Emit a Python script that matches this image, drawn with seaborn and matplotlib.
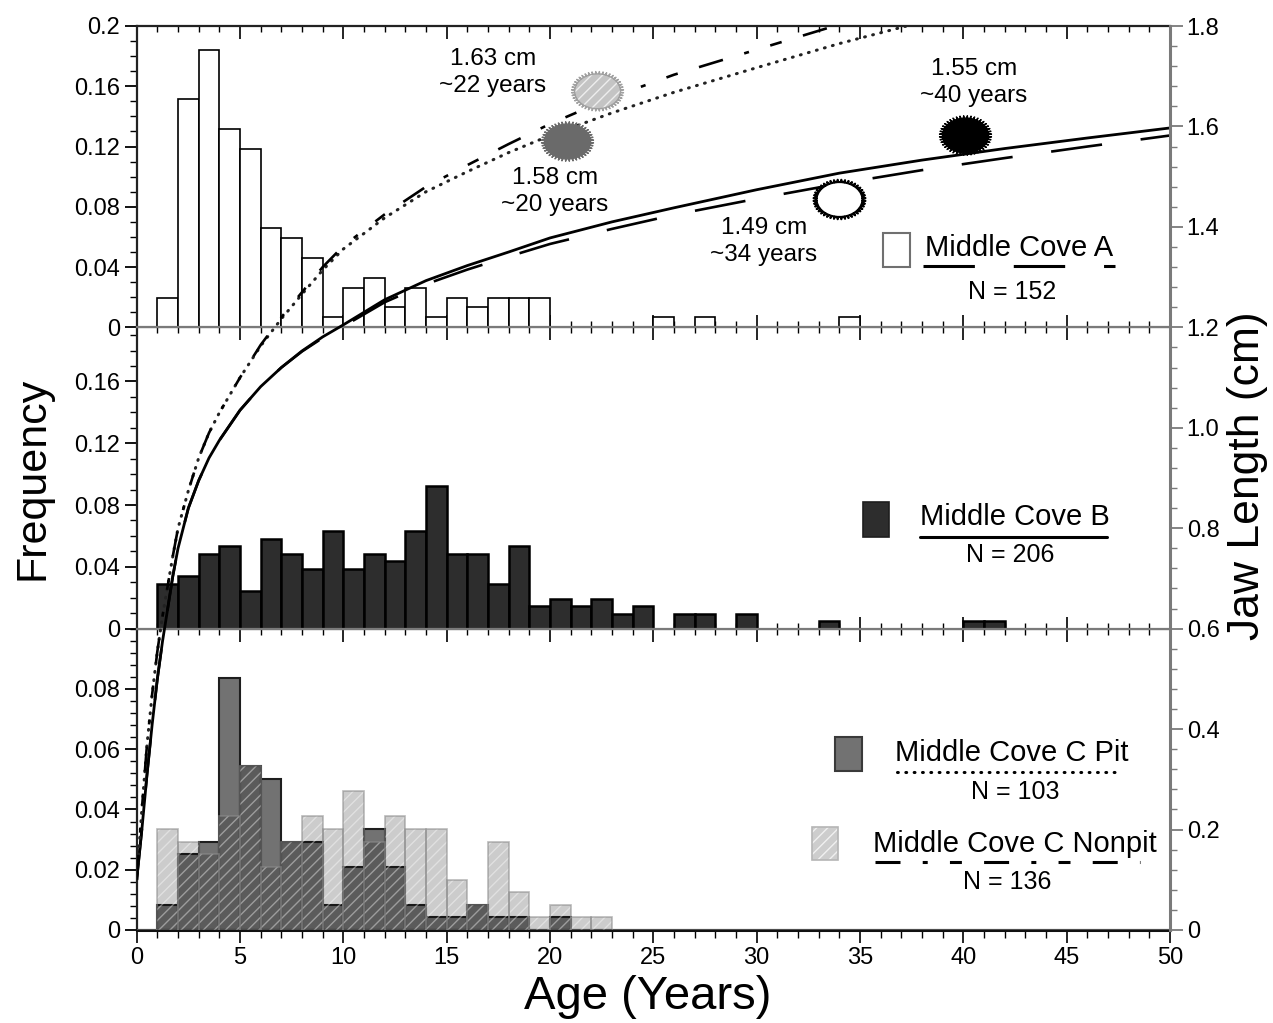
import numpy as np
import matplotlib
matplotlib.use("Agg")
import matplotlib.pyplot as plt
import seaborn as sns
from matplotlib.path import Path
from matplotlib.patches import Rectangle
from matplotlib.lines import Line2D
from matplotlib.ticker import MultipleLocator

# ---- histogram data: left edge of each 1-year age bin, frequency
age_a = [1, 2, 3, 4, 5, 6, 7, 8, 9, 10, 11, 12, 13, 14, 15, 16, 17, 18, 19, 25, 27, 34]
freq_a = [0.0197, 0.1513, 0.1842, 0.1316, 0.1184, 0.0658, 0.0592, 0.0461, 0.0066, 0.0263,
          0.0329, 0.0132, 0.0263, 0.0066, 0.0197, 0.0132, 0.0197, 0.0197, 0.0197,
          0.0066, 0.0066, 0.0066]

age_b = [1, 2, 3, 4, 5, 6, 7, 8, 9, 10, 11, 12, 13, 14, 15, 16, 17, 18, 19, 20, 21, 22, 23, 24,
         26, 27, 29, 33, 40, 41]
freq_b = [0.0291, 0.0340, 0.0485, 0.0534, 0.0243, 0.0583, 0.0485, 0.0388, 0.0631, 0.0388,
          0.0485, 0.0437, 0.0631, 0.0922, 0.0485, 0.0485, 0.0291, 0.0534, 0.0146, 0.0194,
          0.0146, 0.0194, 0.0097, 0.0146, 0.0097, 0.0097, 0.0097, 0.0049, 0.0049, 0.0049]

age_pit = [1, 2, 3, 4, 5, 6, 7, 8, 9, 10, 11, 12, 13, 14, 15, 16, 17, 18, 20]
freq_pit = [0.0084, 0.0251, 0.0293, 0.0837, 0.0544, 0.0502, 0.0293, 0.0293, 0.0084, 0.0209,
            0.0335, 0.0209, 0.0084, 0.0042, 0.0042, 0.0084, 0.0042, 0.0042, 0.0042]

age_nonpit = [1, 2, 3, 4, 5, 6, 7, 8, 9, 10, 11, 12, 13, 14, 15, 16, 17, 18, 19, 20, 21, 22]
freq_nonpit = [0.0335, 0.0293, 0.0251, 0.0377, 0.0544, 0.0209, 0.0293, 0.0377, 0.0335, 0.0460,
               0.0293, 0.0377, 0.0335, 0.0335, 0.0167, 0.0084, 0.0293, 0.0126, 0.0042, 0.0084,
               0.0042, 0.0042]

# ---- growth curves (age in years, jaw length in cm)
grow_age = [0, 0.25, 0.5, 0.75, 1.0, 1.25, 1.5, 1.75, 2.0, 2.5, 3.0, 3.5, 4.0, 5.0, 6.0, 7.0,
            8.0, 9.0, 10.0, 12.0, 14.0, 16.0, 18.0, 20.0, 23.0, 26.0, 30.0, 34.0, 38.0, 42.0,
            46.0, 50.0]
grow_b_len = [0.10, 0.20, 0.31, 0.41, 0.50, 0.575, 0.64, 0.705, 0.76, 0.84, 0.895, 0.94, 0.975,
              1.035, 1.082, 1.12, 1.153, 1.181, 1.205, 1.255, 1.293, 1.323, 1.35, 1.378, 1.41,
              1.438, 1.474, 1.507, 1.533, 1.556, 1.577, 1.597]
grow_a_len = [0.10, 0.20, 0.31, 0.41, 0.50, 0.575, 0.64, 0.705, 0.76, 0.84, 0.895, 0.94, 0.975,
              1.035, 1.082, 1.12, 1.152, 1.179, 1.202, 1.25, 1.286, 1.315, 1.341, 1.366, 1.396,
              1.424, 1.456, 1.486, 1.513, 1.537, 1.56, 1.582]

grow_c_age = [0, 0.25, 0.5, 0.75, 1.0, 1.25, 1.5, 1.75, 2.0, 2.5, 3.0, 3.5, 4.0, 5.0, 6.0, 7.0,
              8.0, 9.0, 10.0, 12.0, 14.0, 16.0, 18.0, 20.0, 23.0, 26.0, 30.0, 34.0, 38.0]
grow_pit_len = [0.10, 0.24, 0.37, 0.47, 0.555, 0.625, 0.685, 0.745, 0.80, 0.875, 0.94, 0.99,
                1.03, 1.10, 1.163, 1.217, 1.266, 1.314, 1.356, 1.418, 1.47, 1.51, 1.548, 1.582,
                1.627, 1.668, 1.717, 1.765, 1.808]
grow_nonpit_len = [0.10, 0.24, 0.37, 0.47, 0.555, 0.625, 0.685, 0.745, 0.80, 0.875, 0.94, 0.99,
                   1.03, 1.10, 1.165, 1.22, 1.27, 1.32, 1.362, 1.425, 1.48, 1.523, 1.565, 1.605,
                   1.658, 1.703, 1.753, 1.803, 1.845]

# ---- sampled individuals shown as markers
mark_age = [22.3, 20.8, 34.0, 40.1]
mark_len = [1.670, 1.571, 1.456, 1.582]
mark_note = ["1.63 cm\n~22 years", "1.58 cm\n~20 years", "1.49 cm\n~34 years", "1.55 cm\n~40 years"]

sns.set_style("ticks")
plt.rcParams["font.family"] = ["Liberation Sans", "DejaVu Sans"]
plt.rcParams["text.color"] = "black"
plt.rcParams["axes.labelcolor"] = "black"
plt.rcParams["xtick.color"] = "black"
plt.rcParams["ytick.color"] = "black"
plt.rcParams["lines.scale_dashes"] = False
plt.rcParams["hatch.linewidth"] = 1.0

W_PX, H_PX = 1273, 1023
fig = plt.figure(figsize=(W_PX / 100, H_PX / 100), dpi=100)


def fx(px):
    return px / W_PX


def fy(py):
    return 1 - py / H_PX


left, right = fx(136.7), fx(1170)
bottom = fy(930)
third = (930 - 26) / 3 / H_PX
width = right - left

ax_c = fig.add_axes([left, bottom, width, third])
ax_b = fig.add_axes([left, bottom + third, width, third])
ax_a = fig.add_axes([left, bottom + 2 * third, width, third])

hist_kw = dict(binwidth=1, binrange=(0, 50))

sns.histplot(x=age_a, weights=freq_a, ax=ax_a, facecolor="white",
             edgecolor="black", linewidth=1.2, **hist_kw)
sns.histplot(x=age_b, weights=freq_b, ax=ax_b, facecolor="#2d2d2d",
             edgecolor="black", linewidth=1.8, **hist_kw)
sns.histplot(x=age_pit, weights=freq_pit, ax=ax_c, facecolor="#727272",
             edgecolor="#1e1e1e", linewidth=1.5, zorder=2, **hist_kw)
sns.histplot(x=age_nonpit, weights=freq_nonpit, ax=ax_c, facecolor=(0, 0, 0, 0.2),
             edgecolor=(1, 1, 1, 0.4), linewidth=0, hatch="///", zorder=3, **hist_kw)
sns.histplot(x=age_nonpit, weights=freq_nonpit, ax=ax_c, facecolor="none",
             edgecolor=(0.55, 0.55, 0.55, 0.6), linewidth=1.2, zorder=4, **hist_kw)

panels = [
    (ax_a, 0.2, [0, 0.04, 0.08, 0.12, 0.16, 0.2], ["0", "0.04", "0.08", "0.12", "0.16", "0.2"], 0.01),
    (ax_b, 0.195, [0, 0.04, 0.08, 0.12, 0.16], ["0", "0.04", "0.08", "0.12", "0.16"], 0.01),
    (ax_c, 0.1, [0, 0.02, 0.04, 0.06, 0.08], ["0", "0.02", "0.04", "0.06", "0.08"], 0.004),
]
for ax, ymax, ticks, labels, minor in panels:
    ax.set_xlim(0, 50)
    ax.set_ylim(0, ymax)
    ax.set_xlabel("")
    ax.set_ylabel("")
    ax.set_yticks(ticks, labels)
    ax.yaxis.set_minor_locator(MultipleLocator(minor))
    ax.xaxis.set_major_locator(MultipleLocator(5))
    ax.xaxis.set_minor_locator(MultipleLocator(1))
    ax.tick_params(axis="y", which="major", direction="out", length=9, width=1.3,
                   labelsize=17, pad=3)
    ax.tick_params(axis="y", which="minor", direction="out", length=5, width=1.0)
    ax.tick_params(axis="x", which="major", top=True, bottom=True, direction="in",
                   length=9, width=1.2, labelbottom=False)
    ax.tick_params(axis="x", which="minor", top=True, bottom=True, direction="in",
                   length=4, width=1.0)
    ax.spines["right"].set_visible(False)
    for side in ["top", "bottom"]:
        ax.spines[side].set_color("#7a7a7a")
        ax.spines[side].set_linewidth(1.6)
    ax.spines["left"].set_color("#222222")
    ax.spines["left"].set_linewidth(1.6)

ax_a.spines["top"].set_color("#222222")
ax_c.spines["bottom"].set_color("#111111")
ax_c.spines["bottom"].set_linewidth(2.2)
ax_c.tick_params(axis="x", which="both", top=False, direction="out", labelbottom=True,
                 labelsize=17)
ax_c.tick_params(axis="x", which="major", length=9)
ax_c.tick_params(axis="x", which="minor", length=6)
top_c = ax_c.secondary_xaxis("top")
top_c.xaxis.set_major_locator(MultipleLocator(5))
top_c.xaxis.set_minor_locator(MultipleLocator(1))
top_c.tick_params(axis="x", which="major", direction="in", length=9, width=1.2, labeltop=False)
top_c.tick_params(axis="x", which="minor", direction="in", length=4, width=1.0)
top_c.spines["top"].set_visible(False)

# ---- overlay axis for the growth curves (right axis, whole height)
ax_g = fig.add_axes([left, bottom, width, 3 * third])
ax_g.patch.set_visible(False)
for side in ["top", "left", "bottom"]:
    ax_g.spines[side].set_visible(False)
ax_g.spines["right"].set_color("#7a7a7a")
ax_g.spines["right"].set_linewidth(2.2)

dash_a = (0, (37, 28))
dot_pit = (0, (0.6, 5.4))
dash_nonpit = (0, (18, 16, 3.6, 16, 8.6, 16))

sns.lineplot(x=grow_age, y=grow_a_len, ax=ax_g, color="black", linewidth=1.9,
             linestyle=dash_a)
sns.lineplot(x=grow_age, y=grow_b_len, ax=ax_g, color="black", linewidth=2.0)
sns.lineplot(x=grow_c_age, y=grow_pit_len, ax=ax_g, color="#222222", linewidth=2.2,
             linestyle=dot_pit, dash_capstyle="round")
sns.lineplot(x=grow_c_age, y=grow_nonpit_len, ax=ax_g, color="black", linewidth=1.9,
             linestyle=dash_nonpit)

# jagged ellipse glyph used for the sample markers
n_spikes = 44
step = 2 * np.pi / n_spikes
theta, rad = [], []
for k in range(n_spikes):
    for frac, r in [(0.0, 0.88), (0.38, 0.88), (0.5, 1.0), (0.62, 0.88)]:
        theta.append(k * step + frac * step)
        rad.append(r)
theta, rad = np.array(theta), np.array(rad)
verts = np.column_stack([np.cos(theta) * rad, 0.76 * np.sin(theta) * rad])
verts = np.vstack([verts, verts[:1]])
codes = [Path.MOVETO] + [Path.LINETO] * (len(verts) - 2) + [Path.CLOSEPOLY]
jag = Path(verts, codes)

mark_face = ["#c4c4c4", "#6a6a6a", "white", "black"]
mark_edge = [(1, 1, 1, 0.7), "#6a6a6a", "black", "black"]
mark_hatch = ["///", None, None, None]
mark_lw = [0.0, 1.0, 1.5, 1.0]
for i in range(len(mark_age)):
    sns.scatterplot(x=[mark_age[i]], y=[mark_len[i]], ax=ax_g, marker=jag, s=1400,
                    color=mark_face[i], edgecolor=mark_edge[i], linewidth=mark_lw[i],
                    hatch=mark_hatch[i], zorder=5)
sns.scatterplot(x=[mark_age[0]], y=[mark_len[0]], ax=ax_g, marker=jag, s=1400,
                color="none", edgecolor="#a0a0a0", linewidth=1.0, zorder=6)

note_x = [17.24, 20.24, 30.35, 40.51]
note_y = [1.707, 1.471, 1.371, 1.688]
for i in range(len(mark_note)):
    ax_g.text(note_x[i], note_y[i], mark_note[i], ha="center", va="center",
              multialignment="center", fontsize=17.5, linespacing=1.3)

ax_g.set_xlim(0, 50)
ax_g.set_ylim(0, 1.8)
ax_g.set_xlabel("")
ax_g.set_ylabel("")
ax_g.set_xticks([])
ax_g.yaxis.tick_right()
ax_g.set_yticks([0, 0.2, 0.4, 0.6, 0.8, 1.0, 1.2, 1.4, 1.6, 1.8],
                ["0", "0.2", "0.4", "0.6", "0.8", "1.0", "1.2", "1.4", "1.6", "1.8"])
ax_g.yaxis.set_minor_locator(MultipleLocator(0.04))
ax_g.tick_params(axis="y", which="major", direction="out", length=9, width=1.3,
                 color="#7a7a7a", labelcolor="black", labelsize=17, pad=3)
ax_g.tick_params(axis="y", which="minor", direction="out", length=5, width=1.0,
                 color="#7a7a7a")

# ---- axis titles
fig.text(fx(33), fy(478), "Frequency", rotation=90, ha="center", va="center", fontsize=31)
fig.text(fx(1247), fy(476), "Jaw Length (cm)", rotation=90, ha="center", va="center",
         fontsize=32)
fig.text(fx(648), fy(997), "Age (Years)", ha="center", va="center", fontsize=34)


# ---- hand-made legends
def swatch(x0, y0, x1, y1, **kw):
    fig.add_artist(Rectangle((fx(x0), fy(y1)), (x1 - x0) / W_PX, (y1 - y0) / H_PX,
                             transform=fig.transFigure, **kw))


def underline(x0, x1, y, **kw):
    fig.add_artist(Line2D([fx(x0), fx(x1)], [fy(y), fy(y)], transform=fig.transFigure,
                          color="black", **kw))


swatch(883, 233, 910, 267, facecolor="white", edgecolor="#707070", linewidth=1.5)
fig.text(fx(925), fy(248), "Middle Cove A", ha="left", va="center", fontsize=21)
underline(923, 1115, 266, linewidth=2.2, linestyle=dash_a)
fig.text(fx(1012), fy(292), "N = 152", ha="center", va="center", fontsize=18)

swatch(863, 502, 889, 537, facecolor="#2d2d2d", edgecolor="#1e1e1e", linewidth=1.2)
fig.text(fx(920), fy(517), "Middle Cove B", ha="left", va="center", fontsize=21)
underline(920, 1107, 537, linewidth=2.2)
fig.text(fx(1010), fy(555), "N = 206", ha="center", va="center", fontsize=18)

swatch(835, 737, 862, 771, facecolor="#727272", edgecolor="#3a3a3a", linewidth=1.5)
fig.text(fx(895), fy(753), "Middle Cove C Pit", ha="left", va="center", fontsize=21)
underline(897, 1122, 772, linewidth=2.2, linestyle=dot_pit, dash_capstyle="round")
fig.text(fx(1015), fy(792), "N = 103", ha="center", va="center", fontsize=18)

swatch(812, 827, 838, 860, facecolor="#cdcdcd", edgecolor=(1, 1, 1, 0.7), linewidth=0,
       hatch="///")
swatch(812, 827, 838, 860, facecolor="none", edgecolor="#b5b5b5", linewidth=1.2)
fig.text(fx(873), fy(844), "Middle Cove C Nonpit", ha="left", va="center", fontsize=21)
underline(875, 1140, 862, linewidth=2.2, linestyle=dash_nonpit)
fig.text(fx(1007), fy(882), "N = 136", ha="center", va="center", fontsize=18)

fig.savefig("out.png", dpi=100)
